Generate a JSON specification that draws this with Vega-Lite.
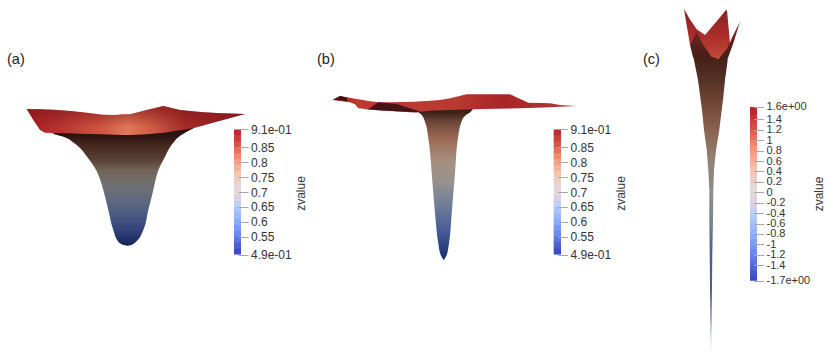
{
"$schema":"https://vega.github.io/schema/vega-lite/v6.json",
"width":830,"height":361,"padding":0,"autosize":{"type":"none"},"background":"white",
"config":{"view":{"stroke":null}},
"datasets":{
"wallA":[{"sy":128,"xl":53,"xr":194},{"sy":133.5,"xl":53.3,"xr":183.8},{"sy":136.7,"xl":63.3,"xr":179},{"sy":145,"xl":76.7,"xr":171.5},{"sy":156.7,"xl":87,"xr":165},{"sy":171.7,"xl":97,"xr":157.8},{"sy":180,"xl":100.3,"xr":155.5},{"sy":190,"xl":103.3,"xr":153.3},{"sy":210,"xl":108.3,"xr":148.3},{"sy":230,"xl":113.3,"xr":143.3},{"sy":241.7,"xl":118.3,"xr":136},{"sy":245.3,"xl":125,"xr":130},{"sy":245.8,"xl":127,"xr":128}],
"rimA":[{"sx":26.7,"top":109,"bot":109},{"sx":33.3,"top":109.2,"bot":120},{"sx":40,"top":109.3,"bot":130},{"sx":45,"top":109.4,"bot":132.7},{"sx":53.3,"top":109.7,"bot":133},{"sx":70,"top":111,"bot":133.3},{"sx":80,"top":112,"bot":133.7},{"sx":103,"top":114.7,"bot":134.3},{"sx":115,"top":115,"bot":134.7},{"sx":123.3,"top":114.3,"bot":135},{"sx":130,"top":114.3,"bot":135},{"sx":146.7,"top":110,"bot":134.2},{"sx":163.3,"top":106,"bot":132.7},{"sx":180,"top":110,"bot":130.3},{"sx":195,"top":111.5,"bot":127.7},{"sx":203.3,"top":112.3,"bot":125.5},{"sx":216.7,"top":113,"bot":121.7},{"sx":245,"top":114,"bot":114}],
"wallB":[{"sy":106,"xl":418,"xr":474},{"sy":112.5,"xl":419,"xr":470},{"sy":115,"xl":421.7,"xr":466},{"sy":121.7,"xl":425,"xr":461.5},{"sy":138,"xl":428.3,"xr":458},{"sy":173.3,"xl":431.7,"xr":455},{"sy":213.3,"xl":435,"xr":451.7},{"sy":243.3,"xl":438.3,"xr":449},{"sy":255,"xl":440.7,"xr":446.7},{"sy":260,"xl":443.7,"xr":443.9}],
"rimB":[{"sx":332.7,"top":100,"bot":100},{"sx":340,"top":96,"bot":101},{"sx":350,"top":97.7,"bot":102.3},{"sx":355,"top":98.7,"bot":104.3},{"sx":358.3,"top":99.3,"bot":108.3},{"sx":363.3,"top":100,"bot":108.8},{"sx":366.7,"top":100.7,"bot":109.3},{"sx":378.3,"top":102.3,"bot":110.2},{"sx":390,"top":102.2,"bot":111},{"sx":413.3,"top":101.7,"bot":112.5},{"sx":430,"top":100.7,"bot":110.7},{"sx":440,"top":100,"bot":110.3},{"sx":450,"top":98.3,"bot":110},{"sx":466.7,"top":94.3,"bot":109.5},{"sx":483.3,"top":94.3,"bot":109},{"sx":510,"top":94.3,"bot":108.4},{"sx":528.3,"top":102.7,"bot":107.9},{"sx":550,"top":103.3,"bot":107.2},{"sx":560,"top":105,"bot":106.8},{"sx":576.7,"top":106,"bot":106}],
"foldB":[{"sx":366.7,"top":109.3,"bot":109.3},{"sx":370,"top":108,"bot":109.5},{"sx":378.3,"top":102.3,"bot":110.2},{"sx":396.7,"top":104,"bot":111.3},{"sx":420,"top":111.5,"bot":112.6}],
"tipB":[{"sx":332.7,"top":100,"bot":100},{"sx":340,"top":96,"bot":99.7},{"sx":345,"top":97.2,"bot":101},{"sx":347,"top":97.7,"bot":101.2}],
"backC":[{"sx":684,"top":9,"bot":9},{"sx":690,"top":19.5,"bot":45},{"sx":696.7,"top":29.3,"bot":40},{"sx":705,"top":35,"bot":50},{"sx":715,"top":23.3,"bot":60},{"sx":726,"top":10,"bot":55},{"sx":727,"top":10.5,"bot":50},{"sx":730,"top":43,"bot":44}],
"frontC":[{"sx":690,"top":45,"bot":45},{"sx":693,"top":39,"bot":57},{"sx":696.7,"top":31.7,"bot":66},{"sx":703.3,"top":45,"bot":66},{"sx":711.7,"top":56.7,"bot":66},{"sx":718.3,"top":59,"bot":66},{"sx":726,"top":50,"bot":64},{"sx":728.3,"top":46,"bot":57},{"sx":733.3,"top":35,"bot":43.3},{"sx":740,"top":21.7,"bot":21.7}],
"wallC":[{"sy":60,"xl":694,"xr":727.7},{"sy":80,"xl":698,"xr":725},{"sy":100,"xl":700.7,"xr":723},{"sy":110,"xl":702,"xr":721.7},{"sy":130,"xl":704,"xr":719.3},{"sy":150,"xl":706.7,"xr":716},{"sy":170,"xl":708.3,"xr":714},{"sy":190,"xl":709.3,"xr":713.3},{"sy":220,"xl":709.3,"xr":713},{"sy":253,"xl":709.7,"xr":712.3},{"sy":287,"xl":710,"xr":712},{"sy":320,"xl":710.3,"xr":711.7},{"sy":350,"xl":710.7,"xr":711}],
"barAB":[{"z":0.49,"zt":0.515},{"z":0.51,"zt":0.535},{"z":0.53,"zt":0.555},{"z":0.55,"zt":0.575},{"z":0.57,"zt":0.595},{"z":0.59,"zt":0.615},{"z":0.61,"zt":0.635},{"z":0.63,"zt":0.655},{"z":0.65,"zt":0.675},{"z":0.67,"zt":0.695},{"z":0.69,"zt":0.715},{"z":0.71,"zt":0.735},{"z":0.73,"zt":0.755},{"z":0.75,"zt":0.775},{"z":0.77,"zt":0.795},{"z":0.79,"zt":0.815},{"z":0.81,"zt":0.835},{"z":0.83,"zt":0.855},{"z":0.85,"zt":0.875},{"z":0.87,"zt":0.895},{"z":0.89,"zt":0.91}],
"barC":[{"z":-1.7,"zt":-1.56},{"z":-1.6,"zt":-1.46},{"z":-1.5,"zt":-1.36},{"z":-1.4,"zt":-1.26},{"z":-1.3,"zt":-1.16},{"z":-1.2,"zt":-1.06},{"z":-1.1,"zt":-0.96},{"z":-1.0,"zt":-0.86},{"z":-0.9,"zt":-0.76},{"z":-0.8,"zt":-0.66},{"z":-0.7,"zt":-0.56},{"z":-0.6,"zt":-0.46},{"z":-0.5,"zt":-0.36},{"z":-0.4,"zt":-0.26},{"z":-0.3,"zt":-0.16},{"z":-0.2,"zt":-0.06},{"z":-0.1,"zt":0.04},{"z":0,"zt":0.14},{"z":0.1,"zt":0.24},{"z":0.2,"zt":0.34},{"z":0.3,"zt":0.44},{"z":0.4,"zt":0.54},{"z":0.5,"zt":0.64},{"z":0.6,"zt":0.74},{"z":0.7,"zt":0.84},{"z":0.8,"zt":0.94},{"z":0.9,"zt":1.04},{"z":1.0,"zt":1.14},{"z":1.1,"zt":1.24},{"z":1.2,"zt":1.34},{"z":1.3,"zt":1.44},{"z":1.4,"zt":1.54},{"z":1.5,"zt":1.64}]
},
"layer":[
{"data":{"name":"wallA"},"mark":{"type":"area","orient":"horizontal","interpolate":"monotone","color":{"gradient":"linear","x1":0,"y1":0,"x2":0,"y2":1,"stops":[{"offset":0,"color":"#2c1210"},{"offset":0.06,"color":"#2c1210"},{"offset":0.14,"color":"#43261c"},{"offset":0.27,"color":"#5a4036"},{"offset":0.36,"color":"#72645a"},{"offset":0.48,"color":"#70706f"},{"offset":0.61,"color":"#5f6a80"},{"offset":0.74,"color":"#4a5a84"},{"offset":0.87,"color":"#33427a"},{"offset":0.96,"color":"#1f2c64"},{"offset":1,"color":"#1a2458"}]}},
 "encoding":{"y":{"field":"sy","type":"quantitative","scale":{"domain":[361,0]},"axis":null},"x":{"field":"xl","type":"quantitative","scale":{"domain":[0,830]},"axis":null},"x2":{"field":"xr"}}},
{"data":{"name":"rimA"},"mark":{"type":"area","orient":"vertical","color":{"gradient":"linear","x1":0,"y1":0,"x2":1,"y2":0,"stops":[{"offset":0,"color":"#a81e22"},{"offset":0.15,"color":"#b83530"},{"offset":0.35,"color":"#cf5a44"},{"offset":0.46,"color":"#e27c5a"},{"offset":0.58,"color":"#cf5c44"},{"offset":0.72,"color":"#a42e2a"},{"offset":1,"color":"#8a1a1e"}]}},
 "encoding":{"x":{"field":"sx","type":"quantitative","scale":{"domain":[0,830]},"axis":null},"y":{"field":"top","type":"quantitative","scale":{"domain":[361,0]},"axis":null},"y2":{"field":"bot"}}},
{"data":{"name":"rimA"},"mark":{"type":"area","orient":"vertical","color":{"gradient":"linear","x1":0,"y1":0,"x2":0,"y2":1,"stops":[{"offset":0,"color":"rgba(130,20,25,0.75)"},{"offset":0.7,"color":"rgba(130,20,25,0.05)"},{"offset":1,"color":"rgba(130,20,25,0)"}]}},
 "encoding":{"x":{"field":"sx","type":"quantitative","scale":{"domain":[0,830]},"axis":null},"y":{"field":"top","type":"quantitative","scale":{"domain":[361,0]},"axis":null},"y2":{"field":"bot"}}},
{"data":{"name":"wallB"},"mark":{"type":"area","orient":"horizontal","interpolate":"monotone","color":{"gradient":"linear","x1":0,"y1":0,"x2":0,"y2":1,"stops":[{"offset":0.04,"color":"#3a2018"},{"offset":0.1,"color":"#6b4535"},{"offset":0.21,"color":"#9a6a55"},{"offset":0.36,"color":"#a88f80"},{"offset":0.49,"color":"#96938f"},{"offset":0.65,"color":"#6e7c98"},{"offset":0.82,"color":"#445a96"},{"offset":0.96,"color":"#223474"},{"offset":1,"color":"#1a2660"}]}},
 "encoding":{"y":{"field":"sy","type":"quantitative","scale":{"domain":[361,0]},"axis":null},"x":{"field":"xl","type":"quantitative","scale":{"domain":[0,830]},"axis":null},"x2":{"field":"xr"}}},
{"data":{"name":"rimB"},"mark":{"type":"area","orient":"vertical","color":{"gradient":"linear","x1":0,"y1":0,"x2":1,"y2":0,"stops":[{"offset":0,"color":"#8a2020"},{"offset":0.1,"color":"#c03a30"},{"offset":0.3,"color":"#b83a30"},{"offset":0.5,"color":"#b83a30"},{"offset":0.7,"color":"#a82428"},{"offset":1,"color":"#b83838"}]}},
 "encoding":{"x":{"field":"sx","type":"quantitative","scale":{"domain":[0,830]},"axis":null},"y":{"field":"top","type":"quantitative","scale":{"domain":[361,0]},"axis":null},"y2":{"field":"bot"}}},
{"data":{"name":"foldB"},"mark":{"type":"area","orient":"vertical","color":"#441418"},
 "encoding":{"x":{"field":"sx","type":"quantitative","scale":{"domain":[0,830]},"axis":null},"y":{"field":"top","type":"quantitative","scale":{"domain":[361,0]},"axis":null},"y2":{"field":"bot"}}},
{"data":{"name":"tipB"},"mark":{"type":"area","orient":"vertical","color":"#3a1210"},
 "encoding":{"x":{"field":"sx","type":"quantitative","scale":{"domain":[0,830]},"axis":null},"y":{"field":"top","type":"quantitative","scale":{"domain":[361,0]},"axis":null},"y2":{"field":"bot"}}},
{"data":{"name":"backC"},"mark":{"type":"area","orient":"vertical","color":{"gradient":"linear","x1":0,"y1":0,"x2":0,"y2":1,"stops":[{"offset":0,"color":"#8a2025"},{"offset":0.5,"color":"#a82c28"},{"offset":1,"color":"#c24c3a"}]}},
 "encoding":{"x":{"field":"sx","type":"quantitative","scale":{"domain":[0,830]},"axis":null},"y":{"field":"top","type":"quantitative","scale":{"domain":[361,0]},"axis":null},"y2":{"field":"bot"}}},
{"data":{"name":"frontC"},"mark":{"type":"area","orient":"vertical","color":{"gradient":"linear","x1":0,"y1":0,"x2":0,"y2":1,"stops":[{"offset":0,"color":"#8a2428"},{"offset":0.3,"color":"#6a2420"},{"offset":0.7,"color":"#4c1e18"},{"offset":1,"color":"#452318"}]}},
 "encoding":{"x":{"field":"sx","type":"quantitative","scale":{"domain":[0,830]},"axis":null},"y":{"field":"top","type":"quantitative","scale":{"domain":[361,0]},"axis":null},"y2":{"field":"bot"}}},
{"data":{"name":"wallC"},"mark":{"type":"area","orient":"horizontal","color":{"gradient":"linear","x1":0,"y1":0,"x2":0,"y2":1,"stops":[{"offset":0,"color":"#452318"},{"offset":0.07,"color":"#553226"},{"offset":0.14,"color":"#6e4434"},{"offset":0.24,"color":"#8a6250"},{"offset":0.34,"color":"#92806f"},{"offset":0.45,"color":"#8c8c8c"},{"offset":0.55,"color":"#7a8498"},{"offset":0.66,"color":"#4e5f8e"},{"offset":0.79,"color":"#4a5f96"},{"offset":0.9,"color":"#8a96b8"},{"offset":1,"color":"#dfe2ea"}]}},
 "encoding":{"y":{"field":"sy","type":"quantitative","scale":{"domain":[361,0]},"axis":null},"x":{"field":"xl","type":"quantitative","scale":{"domain":[0,830]},"axis":null},"x2":{"field":"xr"}}},
{"data":{"name":"barAB"},"mark":{"type":"rect"},
 "encoding":{"x":{"datum":234,"type":"quantitative","scale":{"domain":[0,830]},"axis":null},"x2":{"datum":241},
 "y":{"field":"z","type":"quantitative","scale":{"domain":[0.1329,1.3443]},
 "axis":{"orient":"right","offset":-592,"values":[0.91,0.85,0.8,0.75,0.7,0.65,0.6,0.55,0.49],"domain":false,"grid":false,"tickColor":"#a8a8a8","tickSize":10,"labelPadding":2.5,"labelFont":"Liberation Sans","labelFontSize":12,"labelColor":"#333333","labelOverlap":false,"labelFlush":false,"labelBound":false,"labelExpr":"datum.value==0.91?'9.1e-01':datum.value==0.49?'4.9e-01':format(datum.value,'.2~f')","title":"zvalue","titleFont":"Liberation Sans","titleFontSize":12,"titleFontWeight":"normal","titleColor":"#333333","titleAngle":-90,"titleX":62,"titleY":193,"titleAlign":"center","titleBaseline":"middle","zindex":1}},
 "y2":{"field":"zt"},
 "color":{"field":"z","type":"quantitative","legend":null,"scale":{"domain":[0.49,0.5425,0.595,0.6475,0.7,0.7525,0.805,0.8575,0.91],"range":["#3b4cc0","#6282ea","#8db0fe","#b8d0f9","#dddcdc","#f5c4ac","#f29274","#d24b40","#b40426"]}}}},
{"data":{"name":"barAB"},"mark":{"type":"rect"},
 "encoding":{"x":{"datum":553.7,"type":"quantitative","scale":{"domain":[0,830]},"axis":null},"x2":{"datum":561},
 "y":{"field":"z","type":"quantitative","scale":{"domain":[0.1329,1.3443]},
 "axis":{"orient":"right","offset":-272.5,"values":[0.91,0.85,0.8,0.75,0.7,0.65,0.6,0.55,0.49],"domain":false,"grid":false,"tickColor":"#a8a8a8","tickSize":10,"labelPadding":2.5,"labelFont":"Liberation Sans","labelFontSize":12,"labelColor":"#333333","labelOverlap":false,"labelFlush":false,"labelBound":false,"labelExpr":"datum.value==0.91?'9.1e-01':datum.value==0.49?'4.9e-01':format(datum.value,'.2~f')","title":"zvalue","titleFont":"Liberation Sans","titleFontSize":12,"titleFontWeight":"normal","titleColor":"#333333","titleAngle":-90,"titleX":62.5,"titleY":193,"titleAlign":"center","titleBaseline":"middle","zindex":1}},
 "y2":{"field":"zt"},
 "color":{"field":"z","type":"quantitative","legend":null,"scale":{"domain":[0.49,0.5425,0.595,0.6475,0.7,0.7525,0.805,0.8575,0.91],"range":["#3b4cc0","#6282ea","#8db0fe","#b8d0f9","#dddcdc","#f5c4ac","#f29274","#d24b40","#b40426"]}}}},
{"data":{"name":"barC"},"mark":{"type":"rect"},
 "encoding":{"x":{"datum":750,"type":"quantitative","scale":{"domain":[0,830]},"axis":null},"x2":{"datum":757},
 "y":{"field":"z","type":"quantitative","scale":{"domain":[-3.2417,3.6952]},
 "axis":{"orient":"right","offset":-76.5,"values":[1.64,1.4,1.2,1,0.8,0.6,0.4,0.2,0,-0.2,-0.4,-0.6,-0.8,-1,-1.2,-1.4,-1.7],"domain":false,"grid":false,"tickColor":"#a8a8a8","tickSize":10,"labelPadding":2.5,"labelFont":"Liberation Sans","labelFontSize":11,"labelColor":"#333333","labelOverlap":false,"labelFlush":false,"labelBound":false,"labelExpr":"datum.value==1.64?'1.6e+00':datum.value==-1.7?'-1.7e+00':(datum.value<0?'-':'')+format(abs(datum.value),'.1~f')","title":"zvalue","titleFont":"Liberation Sans","titleFontSize":12,"titleFontWeight":"normal","titleColor":"#333333","titleAngle":-90,"titleX":64.5,"titleY":193.5,"titleAlign":"center","titleBaseline":"middle","zindex":1}},
 "y2":{"field":"zt"},
 "color":{"field":"z","type":"quantitative","legend":null,"scale":{"domain":[-1.7,-1.2825,-0.865,-0.4475,-0.03,0.3875,0.805,1.2225,1.64],"range":["#3b4cc0","#6282ea","#8db0fe","#b8d0f9","#dddcdc","#f5c4ac","#f29274","#d24b40","#b40426"]}}}},
{"data":{"values":[{"label":"(a)"}]},"mark":{"type":"text","align":"left","baseline":"middle","font":"Liberation Sans","fontSize":14.5,"color":"#222222"},
 "encoding":{"x":{"datum":7,"type":"quantitative","scale":{"domain":[0,830]},"axis":null},"y":{"datum":60,"type":"quantitative","scale":{"domain":[361,0]},"axis":null},"text":{"field":"label"}}},
{"data":{"values":[{"label":"(b)"}]},"mark":{"type":"text","align":"left","baseline":"middle","font":"Liberation Sans","fontSize":14.5,"color":"#222222"},
 "encoding":{"x":{"datum":317,"type":"quantitative","scale":{"domain":[0,830]},"axis":null},"y":{"datum":60,"type":"quantitative","scale":{"domain":[361,0]},"axis":null},"text":{"field":"label"}}},
{"data":{"values":[{"label":"(c)"}]},"mark":{"type":"text","align":"left","baseline":"middle","font":"Liberation Sans","fontSize":14.5,"color":"#222222"},
 "encoding":{"x":{"datum":643,"type":"quantitative","scale":{"domain":[0,830]},"axis":null},"y":{"datum":60,"type":"quantitative","scale":{"domain":[361,0]},"axis":null},"text":{"field":"label"}}}
],
"resolve":{"scale":{"y":"independent","color":"independent"},"axis":{"y":"independent"}}
}
